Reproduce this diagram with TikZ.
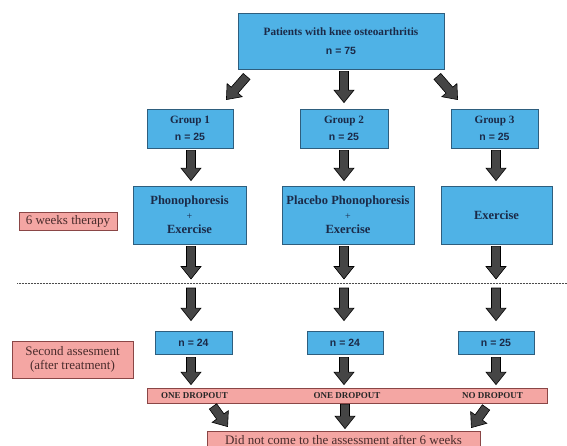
\documentclass[tikz,border=0pt]{standalone}
\usepackage{fontspec}
\setmainfont{Liberation Serif}
\newfontfamily\nfont{Liberation Sans}
\usetikzlibrary{calc}

\definecolor{boxblue}{HTML}{4FB2E6}
\definecolor{boxpink}{HTML}{F4A6A3}
\definecolor{blueedge}{HTML}{2E5E7E}
\definecolor{pinkedge}{HTML}{8A4646}
\definecolor{arrowgray}{HTML}{454545}
\definecolor{textnavy}{HTML}{1B2A48}
\definecolor{textbrown}{HTML}{4A2C2C}

\tikzset{
  bluebox/.style={draw=blueedge, fill=boxblue, line width=0.8pt, text=textnavy,
    font=\bfseries, align=center, inner sep=0pt},
  pinkbox/.style={draw=pinkedge, fill=boxpink, line width=0.8pt, text=textbrown,
    align=center, inner sep=0pt},
  droptext/.style={text=black!85, font=\fontsize{9}{10}\selectfont\bfseries, inner sep=0pt},
  fatarrow/.style={fill=arrowgray, draw=black, line width=0.6pt, line join=miter},
  cutline/.style={draw=black!70, line width=0.7pt, dash pattern=on 1pt off 0.5pt}
}

% block arrow from #1 to #2
\newcommand\fatarrow[2]{%
  \coordinate (fa) at (#1);
  \coordinate (fb) at (#2);
  \coordinate (fh) at ($(fb)!12.5pt!(fa)$);
  \filldraw[fatarrow] ($(fa)!4.5pt!90:(fb)$) -- ($(fh)!4.5pt!-90:(fa)$)
    -- ($(fh)!10pt!-90:(fa)$) -- (fb) -- ($(fh)!10pt!90:(fa)$)
    -- ($(fh)!4.5pt!90:(fa)$) -- ($(fa)!4.5pt!-90:(fb)$) -- cycle;}

\begin{document}
\begin{tikzpicture}[x=1pt,y=-1pt]
  \useasboundingbox (0,0) rectangle (567,446);

  % columns, on the dashed line
  \coordinate (col1) at (191,283);
  \coordinate (col2) at (344,283);
  \coordinate (col3) at (496,283);

  \node[bluebox, minimum width=206pt, minimum height=56pt,
    font=\fontsize{11.2}{19}\selectfont\bfseries] (top) at (341,41)
    {Patients with knee osteoarthritis\\{\nfont\fontsize{10.5}{19}\selectfont n = 75}};

  \node[bluebox, minimum width=86pt, minimum height=39pt,
    font=\fontsize{11.2}{16.5}\selectfont\bfseries] (g1) at (190,128.5)
    {Group 1\\{\nfont\fontsize{10.5}{16.5}\selectfont n = 25}};
  \node[bluebox, minimum width=88pt, minimum height=39pt,
    font=\fontsize{11.2}{16.5}\selectfont\bfseries] (g2) at (344,128.5)
    {Group 2\\{\nfont\fontsize{10.5}{16.5}\selectfont n = 25}};
  \node[bluebox, minimum width=87pt, minimum height=39pt,
    font=\fontsize{11.2}{16.5}\selectfont\bfseries] (g3) at (494.5,128.5)
    {Group 3\\{\nfont\fontsize{10.5}{16.5}\selectfont n = 25}};

  \node[bluebox, minimum width=113pt, minimum height=58pt,
    font=\fontsize{12.5}{14.5}\selectfont\bfseries] (t1) at (189.5,215)
    {Phonophoresis\\{\fontsize{10}{14.5}\selectfont\mdseries +}\\Exercise};
  \node[bluebox, minimum width=132pt, minimum height=58pt,
    font=\fontsize{12.5}{14.5}\selectfont\bfseries] (t2) at (348,215)
    {Placebo Phonophoresis\\{\fontsize{10}{14.5}\selectfont\mdseries +}\\Exercise};
  \node[bluebox, minimum width=111pt, minimum height=58pt,
    font=\fontsize{12.5}{14.5}\selectfont\bfseries] (t3) at (496.5,215) {Exercise};

  \node[pinkbox, minimum width=98pt, minimum height=18pt,
    font=\fontsize{13}{14}\selectfont] (weeks) at (68,221) {6 weeks therapy};

  \draw[cutline] (17,283) -- (567,283);

  \node[bluebox, minimum width=77pt, minimum height=23pt,
    font=\nfont\fontsize{10.5}{12}\selectfont\bfseries] (n1) at (193.5,342.5) {n = 24};
  \node[bluebox, minimum width=76pt, minimum height=23pt,
    font=\nfont\fontsize{10.5}{12}\selectfont\bfseries] (n2) at (345,342.5) {n = 24};
  \node[bluebox, minimum width=76pt, minimum height=23pt,
    font=\nfont\fontsize{10.5}{12}\selectfont\bfseries] (n3) at (496,342.5) {n = 25};

  \node[pinkbox, minimum width=121pt, minimum height=37pt,
    font=\fontsize{13}{14}\selectfont] (assess) at (72.5,359.5)
    {Second assesment\\(after treatment)};

  \node[pinkbox, minimum width=400pt, minimum height=15pt] (drop) at (347,395.5) {};
  \node[droptext] (d1) at (194.5,395.5) {ONE DROPOUT};
  \node[droptext] (d2) at (347,395.5) {ONE DROPOUT};
  \node[droptext] (d3) at (492.5,395.5) {NO DROPOUT};

  \node[pinkbox, minimum width=273pt, minimum height=18pt,
    font=\fontsize{13}{14}\selectfont] (late) at (343.5,440)
    {Did not come to the assessment after 6 weeks};

  % arrows
  \fatarrow{$(top.south west)+(9,7)$}{$(g1.north east)+(-7,-9)$}
  \fatarrow{$(top.south -| col2)+(0,2)$}{$(g2.north -| col2)+(0,-6)$}
  \fatarrow{$(top.south east)+(-7,7)$}{$(g3.north west)+(7,-9)$}
  \foreach \i in {1,2,3}{
    \fatarrow{$(g\i.south -| col\i)+(0,2)$}{$(t\i.north -| col\i)+(0,-5)$}
    \fatarrow{$(t\i.south -| col\i)+(0,2)$}{$(col\i)+(0,-4)$}
    \fatarrow{$(col\i)+(0,5)$}{$(n\i.north -| col\i)+(0,-10)$}
    \fatarrow{$(n\i.south -| col\i)+(0,3)$}{$(drop.north -| col\i)+(0,-3)$}
  }
  \fatarrow{$(drop.south -| col1)+(22,3)$}{$(late.north west)+(21,-4)$}
  \fatarrow{$(drop.south -| col2)+(1,1)$}{$(late.north -| col2)+(1,-2)$}
  \fatarrow{$(drop.south -| col3)+(-10,4)$}{$(late.north east)+(-9,-3)$}
\end{tikzpicture}
\end{document}
